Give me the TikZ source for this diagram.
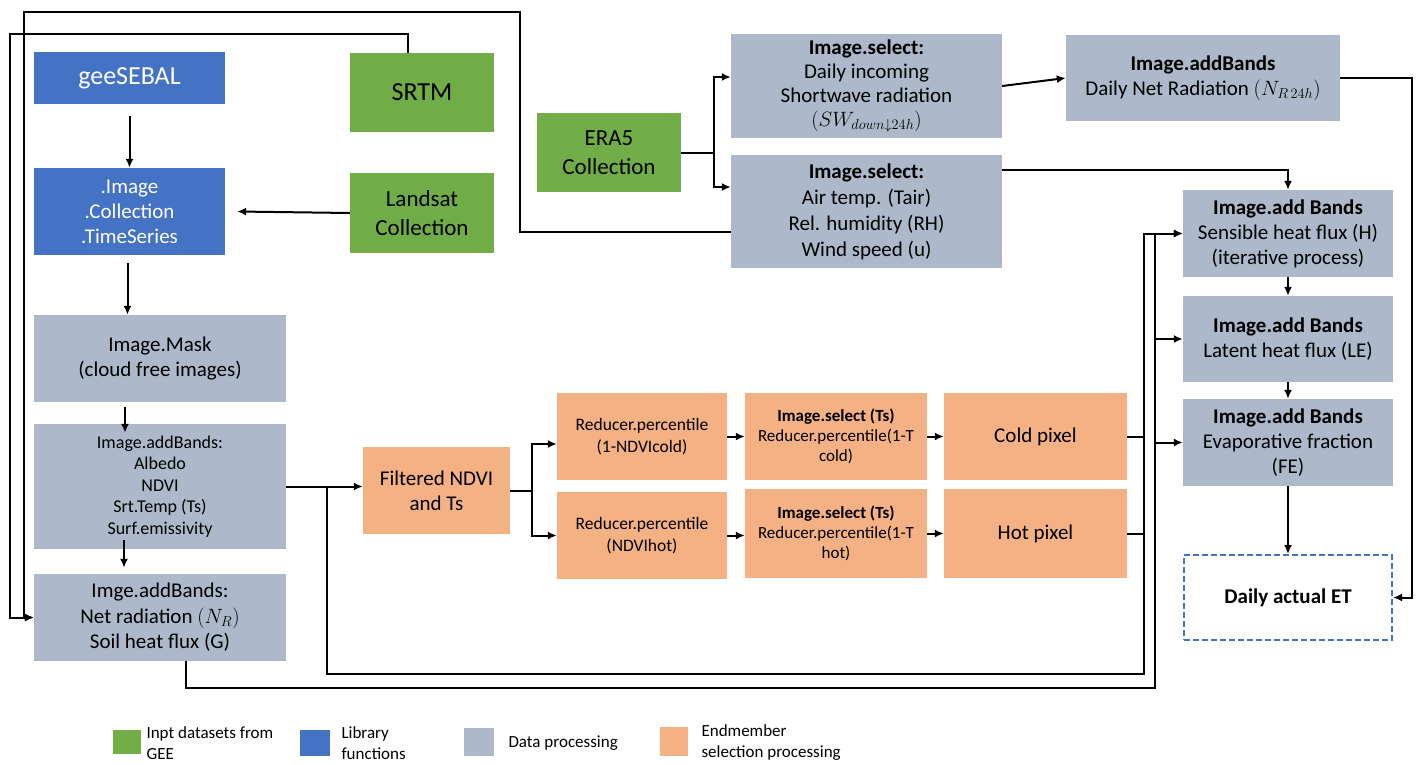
\documentclass[tikz,border=0pt]{standalone}
\usepackage{fontspec}
\setmainfont{Carlito}
\usepackage{xcolor}
\usetikzlibrary{arrows, arrows.meta}
\usetikzlibrary{positioning}
\usetikzlibrary{calc}
\definecolor{libblue}{HTML}{4472C4}
\definecolor{inpgreen}{HTML}{70AD47}
\definecolor{procgrey}{HTML}{ADB9CA}
\definecolor{endorange}{HTML}{F4B183}

\begin{document}
\begin{tikzpicture}[x=1pt,y=-1pt,
	lib/.style={fill=libblue, text=white, align=center, inner sep=2pt},
	inp/.style={fill=inpgreen, align=center, inner sep=2pt},
	proc/.style={fill=procgrey, align=center, inner sep=2pt},
	endm/.style={fill=endorange, align=center, inner sep=2pt},
	legbox/.style={minimum width=28pt, minimum height=26pt, inner sep=0pt},
	legtext/.style={anchor=west, align=left, font=\fontsize{17}{21}\selectfont},
	wire/.style={line width=2pt},
	arr/.style={line width=2pt, -{Latex[length=9pt,width=8pt]}}]
			\useasboundingbox (0,0) rectangle (1419,764);
			% library functions
			\node[lib, minimum width=191pt, minimum height=52pt, font=\fontsize{26}{30}\selectfont] (gee) at (129.5,78) {geeSEBAL};
			\node[lib, minimum width=191pt, minimum height=87pt, font=\fontsize{21}{25}\selectfont] (img) at (129.5,211.5) {.Image\\.Collection\\.TimeSeries};
			% input datasets
			\node[inp, minimum width=144pt, minimum height=79pt, font=\fontsize{26}{30}\selectfont] (srtm) at (422,92.5) {SRTM};
			\node[inp, minimum width=144pt, minimum height=80pt, font=\fontsize{23}{29}\selectfont] (landsat) at (422,213) {Landsat\\Collection};
			\node[inp, minimum width=144pt, minimum height=79pt, font=\fontsize{23}{29}\selectfont] (era) at (609,152.5) {ERA5\\Collection};
			% data processing
			\node[proc, minimum width=271pt, minimum height=104pt, font=\fontsize{21}{24}\selectfont] (sel1) at (866.5,86) {\textbf{Image.select:}\\Daily incoming\\Shortwave radiation\\$(SW_{down\downarrow 24h})$};
			\node[proc, minimum width=271pt, minimum height=113pt, font=\fontsize{21}{26}\selectfont] (sel2) at (866.5,211.5) {\textbf{Image.select:}\\Air temp. (Tair)\\Rel. humidity (RH)\\Wind speed (u)};
			\node[proc, minimum width=274pt, minimum height=86pt, font=\fontsize{21}{25}\selectfont] (nr24) at (1203,78) {\textbf{Image.addBands}\\Daily Net Radiation $(N_{R\,24h})$};
			\node[proc, minimum width=210pt, minimum height=87pt, font=\fontsize{21}{25}\selectfont] (hflux) at (1288,233.5) {\textbf{Image.add Bands}\\Sensible heat flux (H)\\(iterative process)};
			\node[proc, minimum width=210pt, minimum height=86pt, font=\fontsize{21}{25}\selectfont] (lflux) at (1288,339) {\textbf{Image.add Bands}\\Latent heat flux (LE)};
			\node[proc, minimum width=210pt, minimum height=87pt, font=\fontsize{21}{25}\selectfont] (fe) at (1288,442.5) {\textbf{Image.add Bands}\\Evaporative fraction\\(FE)};
			\node[draw=libblue, dash pattern=on 6pt off 3pt, line width=2pt, minimum width=208pt, minimum height=85pt, font=\fontsize{21}{25}\selectfont] (et) at (1288,597.5) {\textbf{Daily actual ET}};
			\node[proc, minimum width=252pt, minimum height=87pt, font=\fontsize{21}{25}\selectfont] (mask) at (160,358.5) {Image.Mask\\(cloud free images)};
			\node[proc, minimum width=252pt, minimum height=125pt, font=\fontsize{18}{21.5}\selectfont] (bands) at (160,486.5) {Image.addBands:\\Albedo\\NDVI\\Srt.Temp (Ts)\\Surf.emissivity};
			\node[proc, minimum width=252pt, minimum height=87pt, font=\fontsize{21}{25.5}\selectfont] (rad) at (160,617.5) {Imge.addBands:\\Net radiation $(N_R)$\\Soil heat flux (G)};
			% endmember selection
			\node[endm, minimum width=147pt, minimum height=87pt, font=\fontsize{21}{25}\selectfont] (filt) at (436.5,490.5) {Filtered NDVI\\and Ts};
			\node[endm, minimum width=170pt, minimum height=87pt, font=\fontsize{17.5}{22}\selectfont] (rcold) at (642,436.5) {Reducer.percentile\\(1-NDVIcold)};
			\node[endm, minimum width=170pt, minimum height=87pt, font=\fontsize{17.5}{22}\selectfont] (rhot) at (642,535.5) {Reducer.percentile\\(NDVIhot)};
			\node[endm, minimum width=182pt, minimum height=87pt, font=\fontsize{17}{20}\selectfont] (scold) at (836,436.5) {\textbf{Image.select (Ts)}\\Reducer.percentile(1-T\\cold)};
			\node[endm, minimum width=182pt, minimum height=89pt, font=\fontsize{17}{20}\selectfont] (shot) at (836,533.5) {\textbf{Image.select (Ts)}\\Reducer.percentile(1-T\\hot)};
			\node[endm, minimum width=183pt, minimum height=87pt, font=\fontsize{21}{25}\selectfont] (cold) at (1035.5,436.5) {Cold pixel};
			\node[endm, minimum width=183pt, minimum height=89pt, font=\fontsize{21}{25}\selectfont] (hot) at (1035.5,533.5) {Hot pixel};
			% legend
			\node[legbox, fill=inpgreen, minimum height=24pt] (leginp) at (127,741.5) {};
			\node[legtext] (legtxtinp) at (143,743.5) {Inpt datasets from\\GEE};
			\node[legbox, fill=libblue, minimum width=30pt] (leglib) at (315,743) {};
			\node[legtext] (legtxtlib) at (338,743.5) {Library\\functions};
			\node[legbox, fill=procgrey, minimum width=30pt, minimum height=28pt] (legproc) at (479,742) {};
			\node[legtext] (legtxtproc) at (505,743) {Data processing};
			\node[legbox, fill=endorange, minimum height=29pt] (legendm) at (674,741.5) {};
			\node[legtext] (legtxtendm) at (698,743) {Endmember\\selection processing};
			% branch points
			\coordinate (efork) at (714,152.5);
			\coordinate (ffork) at (532,490.5);
			\coordinate (split) at (327,486.5);
			\coordinate (busa) at (1144,674);
			\coordinate (busb) at (1155,688);
			% left column arrows
			\draw[arr] ([yshift=-12pt]gee.south) -- (img.north);
			\draw[arr] ([xshift=-2pt,yshift=-8pt]img.south) -- ([xshift=-2pt]img.south |- mask.north);
			\draw[arr] ([xshift=-35pt,yshift=-5pt]mask.south) -- ([xshift=-35pt,yshift=-9pt]bands.north);
			\draw[arr] ([xshift=-36pt,yshift=9pt]bands.south) -- ([xshift=-36pt,yshift=6pt]rad.north);
			\draw[arr] (landsat.west) -- ([xshift=12pt]img.east);
			% loops back to net radiation
			\draw[arr] ([xshift=-14pt]srtm.north) |- (10,34) |- (rad.west);
			\draw[arr] ([yshift=-20.5pt]sel2.west) -| (520,12) -| (24,600) |- (rad.west);
			% ERA5 branch
			\draw[wire] (era.east) -- (efork);
			\draw[arr] (efork) |- ([yshift=9pt]sel1.west);
			\draw[arr] (efork) |- ([yshift=24.5pt]sel2.west);
			\draw[arr] (sel1.east) -- (nr24.west);
			\draw[arr] ([yshift=41.5pt]sel2.east) -| (hflux.north);
			\draw[arr] (nr24.east) -- (1412,78) |- (et.east);
			% endmember chain
			\draw[arr] (bands.east) -- (bands.east -| filt.west);
			\draw[wire] (filt.east) -- (ffork);
			\draw[arr] (ffork) |- ([yshift=-7.5pt]rcold.west);
			\draw[arr] (ffork) |- (rhot.west);
			\draw[arr] (rcold.east) -- (scold.west);
			\draw[arr] (rhot.east) -- (rhot.east -| shot.west);
			\draw[arr] (scold.east) -- (cold.west);
			\draw[arr] (shot.east) -- (hot.west);
			\draw[wire] (cold.east) -- (cold.east -| busa);
			\draw[wire] (hot.east) -- (hot.east -| busa);
			% buses to the heat fluxes
			\draw[arr] (split) |- (busa) |- (hflux.west);
			\draw[arr] ([xshift=26pt]rad.south) |- (busb) |- (hflux.west);
			\draw[arr] (busb |- lflux.west) -- (lflux.west);
			\draw[arr] (busb |- fe.west) -- (fe.west);
			% right column
			\draw[arr] (hflux.south) -- (lflux.north);
			\draw[arr] (lflux.south) -- (fe.north);
			\draw[arr] (fe.south) -- (et.north);
		\end{tikzpicture}
\end{document}
